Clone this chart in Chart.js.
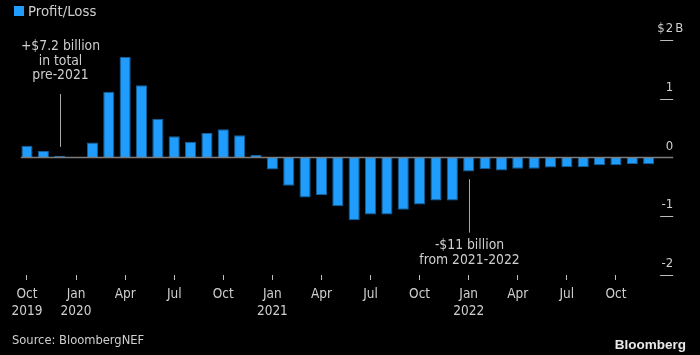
<!DOCTYPE html>
<html>
<head>
<meta charset="utf-8">
<script src="https://cdn.jsdelivr.net/npm/chart.js@4.4.1/dist/chart.umd.min.js"></script>
<style>
html,body{margin:0;padding:0;background:#000;}
#wrap{position:relative;width:700px;height:355px;background:#000;overflow:hidden;font-family:'DejaVu Sans Condensed','DejaVu Sans',sans-serif;color:#cfcfcf;}
#c{position:absolute;left:0;top:0;}
.legend{position:absolute;left:14px;top:3px;font-size:14.8px;line-height:16px;display:flex;align-items:center;white-space:nowrap;}
.legend i{display:inline-block;width:10px;height:10px;background:#1f9cfc;margin-right:4px;}
.source{position:absolute;left:12px;top:332px;font-size:12.8px;line-height:16px;white-space:nowrap;}
.brand{position:absolute;right:14px;top:337px;font:bold 13.5px 'Liberation Sans',Arial,sans-serif;color:#e8e8e8;line-height:16px;}
</style>
</head>
<body>
<div id="wrap">
<canvas id="c" width="700" height="355"></canvas>
<div class="legend"><i></i>Profit/Loss</div>
<div class="source">Source: BloombergNEF</div>
<div class="brand">Bloomberg</div>
</div>
<script>
const categories = [
  'Oct 2019','Nov 2019','Dec 2019',
  'Jan 2020','Feb 2020','Mar 2020','Apr 2020','May 2020','Jun 2020','Jul 2020','Aug 2020','Sep 2020','Oct 2020','Nov 2020','Dec 2020',
  'Jan 2021','Feb 2021','Mar 2021','Apr 2021','May 2021','Jun 2021','Jul 2021','Aug 2021','Sep 2021','Oct 2021','Nov 2021','Dec 2021',
  'Jan 2022','Feb 2022','Mar 2022','Apr 2022','May 2022','Jun 2022','Jul 2022','Aug 2022','Sep 2022','Oct 2022','Nov 2022','Dec 2022',
  'Jan 2023'
];
// Profit/Loss, $ billions
const profitLoss = [
  0.20, 0.11, 0.03,
  0.01, 0.255, 1.12, 1.71, 1.23, 0.66, 0.36, 0.27, 0.415, 0.48, 0.38, 0.045,
  -0.205, -0.48, -0.68, -0.64, -0.83, -1.07, -0.97, -0.97, -0.89, -0.80, -0.73, -0.73,
  -0.24, -0.20, -0.22, -0.19, -0.19, -0.17, -0.165, -0.165, -0.13, -0.13, -0.11, -0.115,
  null
];
const xTickLabels = {
  'Oct 2019': ['Oct', '2019'], 'Jan 2020': ['Jan', '2020'], 'Apr 2020': ['Apr'], 'Jul 2020': ['Jul'], 'Oct 2020': ['Oct'],
  'Jan 2021': ['Jan', '2021'], 'Apr 2021': ['Apr'], 'Jul 2021': ['Jul'], 'Oct 2021': ['Oct'],
  'Jan 2022': ['Jan', '2022'], 'Apr 2022': ['Apr'], 'Jul 2022': ['Jul'], 'Oct 2022': ['Oct']
};
const yTicks = [2, 1, 0, -1, -2];
const yTopPrefix = '$';
const yTopSuffix = 'B';
const annotations = [
  { at: 'Dec 2019', lineFrom: 0.18, lineTo: 1.08, textAt: 1.89, lines: ['+$7.2 billion', 'in total', 'pre-2021'] },
  { at: 'Jan 2022', lineFrom: -0.37, lineTo: -1.28, textAt: -1.50, lines: ['-$11 billion', 'from 2021-2022'] }
];

const FONT = '"DejaVu Sans Condensed", "DejaVu Sans", sans-serif';
const TEXT = '#cfcfcf';

const overlay = {
  id: 'overlay',
  afterDatasetsDraw(chart) {
    const { ctx, chartArea: a, scales: { x, y } } = chart;
    ctx.save();
    // zero line
    const y0 = y.getPixelForValue(0);
    ctx.strokeStyle = '#7c7c7c';
    ctx.lineWidth = 1.5;
    ctx.beginPath(); ctx.moveTo(a.left + 2, y0); ctx.lineTo(a.right, y0); ctx.stroke();
    // y-axis marks and labels
    ctx.font = '13px ' + FONT;
    ctx.fillStyle = TEXT;
    ctx.textBaseline = 'alphabetic';
    const top = Math.max(...yTicks);
    yTicks.forEach(v => {
      const py = y.getPixelForValue(v);
      if (v !== 0) {
        ctx.strokeStyle = '#bdbdbd'; ctx.lineWidth = 1;
        ctx.beginPath(); ctx.moveTo(a.right - 13, Math.round(py) + 0.5); ctx.lineTo(a.right, Math.round(py) + 0.5); ctx.stroke();
      }
      const s = String(v);
      ctx.textAlign = 'right';
      ctx.fillText(s, a.right, py - 8);
      if (v === top) {
        const w = ctx.measureText(s).width;
        ctx.fillText(yTopPrefix, a.right - w - 1, py - 8);
        ctx.textAlign = 'left';
        ctx.fillText(yTopSuffix, a.right + 2, py - 8);
      }
    });
    // annotations
    ctx.font = '13.8px ' + FONT;
    ctx.textAlign = 'center';
    ctx.textBaseline = 'middle';
    annotations.forEach(an => {
      const px = Math.round(x.getPixelForValue(categories.indexOf(an.at))) + 0.5;
      ctx.strokeStyle = '#a8a8a8'; ctx.lineWidth = 1;
      ctx.beginPath(); ctx.moveTo(px, y.getPixelForValue(an.lineFrom)); ctx.lineTo(px, y.getPixelForValue(an.lineTo)); ctx.stroke();
      const ty = y.getPixelForValue(an.textAt);
      an.lines.forEach((t, i) => ctx.fillText(t, px, ty + i * 14.5));
    });
    ctx.restore();
  }
};

new Chart(document.getElementById('c'), {
  type: 'bar',
  data: {
    labels: categories,
    datasets: [{
      label: 'Profit/Loss',
      data: profitLoss,
      backgroundColor: '#1f9cfc',
      borderColor: '#16609a',
      borderWidth: 1,
      categoryPercentage: 1,
      barPercentage: 0.68
    }]
  },
  options: {
    responsive: false,
    animation: false,
    events: [],
    layout: { padding: { left: 18.8, right: 26.8, top: 40, bottom: 30 } },
    plugins: { legend: { display: false }, tooltip: { enabled: false } },
    scales: {
      x: {
        offset: true,
        grid: { display: true, drawOnChartArea: false, drawTicks: true, tickLength: 5, tickWidth: 1, tickColor: '#bdbdbd', offset: false },
        border: { display: false },
        ticks: {
          autoSkip: false, maxRotation: 0, minRotation: 0, padding: 6, color: TEXT,
          font: { family: FONT, size: 13.5, lineHeight: 1.24 },
          callback: (v, i) => xTickLabels[categories[i]] ?? null
        },
        afterFit: s => { s.paddingLeft = 0; s.paddingRight = 0; s.height = 50; }
      },
      y: { display: false, min: -2, max: 2 }
    }
  },
  plugins: [overlay]
});
</script>
</body>
</html>
